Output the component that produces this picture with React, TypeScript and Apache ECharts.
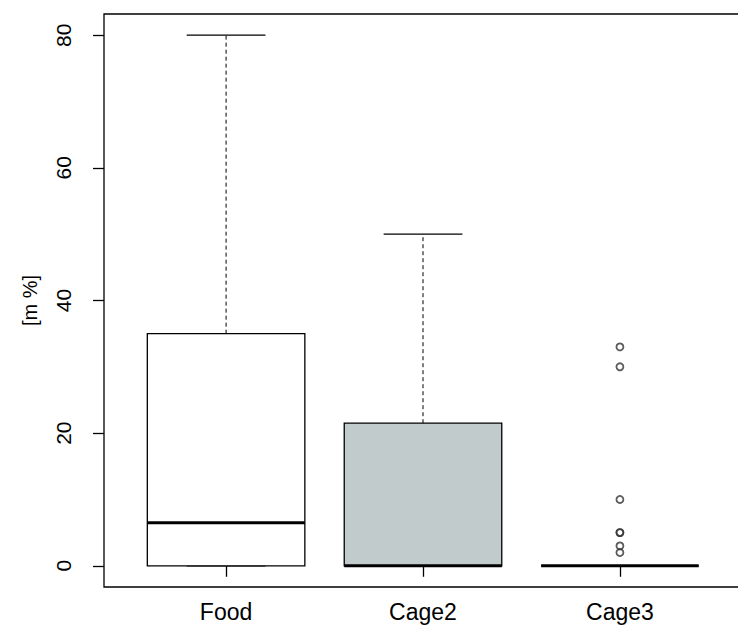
import React, { useEffect, useRef } from "react";
import * as echarts from "echarts";

// ---- data ----
const categories = ["Food", "Cage2", "Cage3"];
const categoryPositions = [1, 2, 3];
const whiskerLow = [0, 0, 0];
const quartile1 = [0, 0, 0];
const medians = [6.5, 0, 0];
const quartile3 = [35, 21.5, 0];
const whiskerHigh = [80, 50, 0];
const boxFills = ["#ffffff", "#c1cbcb", "#ffffff"];
const outlierGroup = 3;
const outlierValues = [33, 30, 10, 5, 5, 3, 2];
const yTicks = [0, 20, 40, 60, 80];
const yAxisTitle = "[m %]";

const FONT = "'Liberation Sans', Arial, sans-serif";

export default function App() {
  const ref = useRef<HTMLDivElement>(null);

  useEffect(() => {
    if (!ref.current) return;
    const chart = echarts.init(ref.current, undefined, { renderer: "svg" });

    const boxData = categoryPositions.map((p, i) => [
      p,
      whiskerLow[i],
      quartile1[i],
      medians[i],
      quartile3[i],
      whiskerHigh[i],
    ]);
    const outlierData = outlierValues.map((v) => [outlierGroup, v]);

    const renderItem = (params: any, api: any) => {
      const x = api.value(0);
      const lo = api.value(1);
      const q1 = api.value(2);
      const med = api.value(3);
      const q3 = api.value(4);
      const hi = api.value(5);
      const w = api.size([0.8, 0])[0];
      const cx = api.coord([x, 0])[0];
      const yLo = api.coord([x, lo])[1];
      const yQ1 = api.coord([x, q1])[1];
      const yMed = api.coord([x, med])[1];
      const yQ3 = api.coord([x, q3])[1];
      const yHi = api.coord([x, hi])[1];
      const left = cx - w / 2;
      const right = cx + w / 2;
      const black = "#000";
      const children: any[] = [];
      if (yHi < yQ3) {
        children.push({
          type: "line",
          shape: { x1: cx, y1: yQ3, x2: cx, y2: yHi },
          style: { stroke: black, lineWidth: 1, lineDash: [4, 3] },
        });
      }
      if (yLo > yQ1) {
        children.push({
          type: "line",
          shape: { x1: cx, y1: yQ1, x2: cx, y2: yLo },
          style: { stroke: black, lineWidth: 1, lineDash: [4, 3] },
        });
      }
      children.push({
        type: "line",
        shape: { x1: cx - w / 4, y1: yHi, x2: cx + w / 4, y2: yHi },
        style: { stroke: black, lineWidth: 1.3 },
      });
      children.push({
        type: "line",
        shape: { x1: cx - w / 4, y1: yLo, x2: cx + w / 4, y2: yLo },
        style: { stroke: black, lineWidth: 1.3 },
      });
      children.push({
        type: "rect",
        shape: { x: left, y: yQ3, width: w, height: yQ1 - yQ3 },
        style: {
          fill: boxFills[params.dataIndex],
          stroke: black,
          lineWidth: 1.3,
        },
      });
      children.push({
        type: "line",
        shape: { x1: left, y1: yMed, x2: right, y2: yMed },
        style: { stroke: black, lineWidth: 3 },
      });
      return { type: "group", children };
    };

    chart.setOption({
      animation: false,
      backgroundColor: "#ffffff",
      grid: {
        left: 104,
        top: 14,
        width: 638,
        height: 573,
        outerBoundsMode: "none",
        containLabel: false,
        show: true,
        borderColor: "#000",
        borderWidth: 1.3,
        backgroundColor: "transparent",
      },
      xAxis: {
        type: "value",
        min: 0.38,
        max: 3.62,
        axisLine: { show: false },
        splitLine: { show: false },
        axisTick: {
          show: true,
          length: 11,
          customValues: categoryPositions,
          lineStyle: { color: "#000", width: 1.3 },
        },
        axisLabel: {
          show: true,
          customValues: categoryPositions,
          formatter: (v: number) => categories[Math.round(v) - 1] ?? "",
          margin: 13,
          fontSize: 23,
          lineHeight: 23,
          fontFamily: FONT,
          color: "#000",
        },
      },
      yAxis: {
        type: "value",
        min: -3.2,
        max: 83.2,
        axisLine: { show: false },
        splitLine: { show: false },
        axisTick: {
          show: true,
          length: 11,
          customValues: yTicks,
          lineStyle: { color: "#000", width: 1.3 },
        },
        axisLabel: {
          show: true,
          customValues: yTicks,
          rotate: 90,
          margin: 30,
          fontSize: 21,
          lineHeight: 21,
          fontFamily: FONT,
          color: "#000",
        },
        name: yAxisTitle,
        nameLocation: "middle",
        nameRotate: 90,
        nameGap: 64,
        nameTextStyle: {
          fontSize: 20,
          lineHeight: 20,
          fontFamily: FONT,
          color: "#000",
        },
      },
      series: [
        {
          type: "custom",
          renderItem,
          data: boxData,
          encode: { x: 0, y: [1, 2, 3, 4, 5] },
          z: 2,
        },
        {
          type: "scatter",
          data: outlierData,
          symbol: "circle",
          symbolSize: 7,
          itemStyle: {
            color: "rgba(0,0,0,0)",
            borderColor: "#333",
            borderWidth: 1.8,
          },
          z: 3,
        },
      ],
    });

    return () => chart.dispose();
  }, []);

  return (
    <div
      ref={ref}
      style={{
        position: "fixed",
        left: 0,
        top: 0,
        width: 738,
        height: 635,
        background: "#fff",
      }}
    />
  );
}
